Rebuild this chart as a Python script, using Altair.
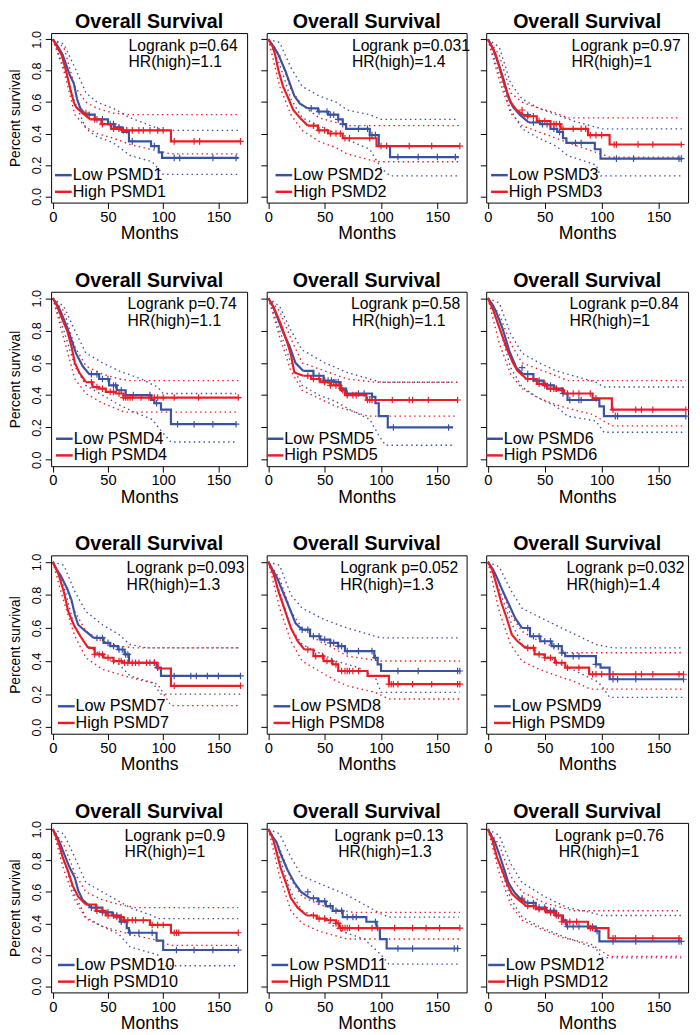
import altair as alt
import pandas as pd

FONT = "Liberation Sans"
BLUE = "#3953a4"
RED = "#ed1c24"

GENES = ["PSMD1", "PSMD2", "PSMD3", "PSMD4", "PSMD5", "PSMD6",
         "PSMD7", "PSMD8", "PSMD9", "PSMD10", "PSMD11", "PSMD12"]
LOGRANK_P = ["0.64", "0.031", "0.97", "0.74", "0.58", "0.84",
             "0.093", "0.052", "0.032", "0.9", "0.13", "0.76"]
HR_HIGH = ["1.1", "1.4", "1", "1.1", "1.1", "1", "1.3", "1.3", "1.4", "1", "1.3", "1"]
PANEL_TITLE = "Overall Survival"
X_TICKS = [0, 50, 100, 150]
Y_TICKS = [0.0, 0.2, 0.4, 0.6, 0.8, 1.0]

# ---- PSMD1 ----
P1_LOW = [(0,1),(5,0.95),(9,0.9),(12,0.84),(15,0.78),(19,0.72),(22,0.62),(25,0.56),(30,0.52),(38,0.49),(50,0.46),(56,0.44),(63,0.41),(69,0.35),(89,0.32),(96,0.28),(99,0.245),(168,0.245)]
P1_HIGH = [(0,1),(4,0.95),(8,0.9),(12,0.8),(16,0.68),(19,0.6),(21,0.57),(27,0.53),(34,0.49),(44,0.46),(53,0.43),(63,0.42),(107,0.35),(170,0.35)]
P1_LOW_UP = [(0,1),(10,0.97),(20,0.82),(30,0.66),(40,0.6),(55,0.56),(70,0.5),(85,0.46),(100,0.42),(168,0.42)]
P1_LOW_LO = [(0,1),(10,0.82),(20,0.6),(30,0.43),(40,0.38),(55,0.34),(70,0.26),(90,0.22),(100,0.14),(168,0.14)]
P1_HIGH_UP = [(0,1),(10,0.95),(20,0.7),(30,0.6),(40,0.56),(55,0.53),(70,0.52),(170,0.52)]
P1_HIGH_LO = [(0,1),(10,0.8),(20,0.52),(30,0.44),(40,0.4),(55,0.37),(70,0.33),(107,0.27),(170,0.27)]
P1_LOW_CENS = [33,40,45,52,55,60,72,92,110,115,145,166]
P1_HIGH_CENS = [30,38,45,55,60,64,67,72,78,82,88,95,100,110,128,133,170]

# ---- PSMD2 ----
P2_LOW = [(0,1),(5,0.95),(9,0.9),(15,0.8),(19,0.72),(23,0.64),(28,0.59),(35,0.56),(44,0.54),(53,0.52),(62,0.49),(66,0.46),(69,0.43),(90,0.39),(98,0.32),(108,0.25),(169,0.25)]
P2_HIGH = [(0,1),(4,0.95),(6,0.9),(9,0.8),(13,0.7),(18,0.62),(22,0.55),(28,0.5),(35,0.45),(44,0.42),(53,0.4),(66,0.37),(96,0.32),(170,0.32)]
P2_LOW_UP = [(0,1),(10,0.98),(20,0.82),(30,0.7),(45,0.64),(60,0.6),(70,0.55),(90,0.52),(100,0.49),(169,0.49)]
P2_LOW_LO = [(0,1),(10,0.84),(20,0.62),(30,0.5),(45,0.45),(60,0.4),(70,0.36),(90,0.3),(100,0.18),(108,0.13),(169,0.13)]
P2_HIGH_UP = [(0,1),(10,0.9),(20,0.68),(30,0.58),(45,0.5),(60,0.47),(70,0.45),(170,0.45)]
P2_HIGH_LO = [(0,1),(10,0.7),(20,0.52),(30,0.42),(45,0.35),(60,0.31),(70,0.27),(96,0.22),(170,0.22)]
P2_LOW_CENS = [38,45,52,55,58,62,66,80,88,92,95,115,133,150,166]
P2_HIGH_CENS = [40,45,50,55,60,64,68,72,90,100,105,125,145,170]

# ---- PSMD3 ----
P3_LOW = [(0,1),(5,0.93),(9,0.85),(14,0.74),(18,0.63),(22,0.57),(28,0.52),(36,0.47),(46,0.46),(55,0.43),(61,0.41),(66,0.37),(69,0.34),(94,0.3),(99,0.24),(171,0.24)]
P3_HIGH = [(0,1),(4,0.95),(7,0.9),(11,0.8),(15,0.7),(20,0.6),(25,0.55),(33,0.51),(43,0.48),(55,0.46),(64,0.43),(88,0.39),(107,0.33),(170,0.33)]
P3_LOW_UP = [(0,1),(10,0.95),(20,0.72),(30,0.62),(45,0.56),(60,0.52),(75,0.48),(95,0.44),(100,0.43),(171,0.43)]
P3_LOW_LO = [(0,1),(10,0.78),(20,0.55),(30,0.43),(45,0.37),(60,0.32),(70,0.26),(95,0.2),(99,0.13),(171,0.13)]
P3_HIGH_UP = [(0,1),(10,0.9),(20,0.66),(30,0.6),(45,0.56),(60,0.53),(70,0.5),(170,0.5)]
P3_HIGH_LO = [(0,1),(10,0.74),(20,0.53),(30,0.45),(45,0.41),(60,0.37),(75,0.33),(107,0.25),(170,0.25)]
P3_LOW_CENS = [35,40,48,52,58,63,77,82,113,128,168,170]
P3_HIGH_CENS = [30,35,40,45,50,55,58,60,63,66,75,82,86,90,95,100,111,113,132,145,170]

# ---- PSMD4 ----
P4_LOW = [(0,1),(4,0.96),(7,0.92),(13,0.82),(17,0.74),(21,0.66),(27,0.58),(33,0.53),(42,0.5),(51,0.46),(58,0.43),(66,0.4),(89,0.37),(92,0.35),(98,0.31),(107,0.22),(166,0.22)]
P4_HIGH = [(0,1),(4,0.95),(8,0.88),(13,0.8),(17,0.7),(20,0.6),(24,0.54),(30,0.48),(36,0.45),(42,0.44),(48,0.42),(57,0.41),(64,0.385),(168,0.385)]
P4_LOW_UP = [(0,1),(10,0.95),(20,0.8),(30,0.66),(45,0.6),(60,0.55),(80,0.5),(95,0.45),(100,0.41),(166,0.41)]
P4_LOW_LO = [(0,1),(10,0.8),(20,0.58),(30,0.46),(45,0.4),(60,0.34),(75,0.29),(90,0.25),(98,0.18),(107,0.11),(166,0.11)]
P4_HIGH_UP = [(0,1),(10,0.92),(20,0.7),(30,0.58),(45,0.53),(60,0.5),(70,0.49),(168,0.49)]
P4_HIGH_LO = [(0,1),(10,0.75),(20,0.5),(30,0.41),(45,0.35),(60,0.31),(65,0.295),(168,0.295)]
P4_LOW_CENS = [35,40,45,50,55,57,62,66,73,88,94,113,128,145,166]
P4_HIGH_CENS = [35,40,45,52,55,60,64,66,68,70,72,80,87,92,95,100,110,132,168]

# ---- PSMD5 ----
P5_LOW = [(0,1),(4,0.95),(8,0.88),(13,0.79),(19,0.7),(24,0.6),(31,0.55),(40,0.52),(49,0.49),(58,0.48),(64,0.44),(69,0.41),(92,0.39),(95,0.35),(98,0.27),(106,0.2),(164,0.2)]
P5_HIGH = [(0,1),(5,0.94),(11,0.84),(17,0.72),(20,0.65),(23,0.54),(31,0.52),(38,0.5),(46,0.48),(55,0.46),(64,0.43),(68,0.4),(87,0.37),(168,0.37)]
P5_LOW_UP = [(0,1),(10,0.95),(20,0.8),(30,0.68),(50,0.6),(70,0.54),(90,0.5),(100,0.48),(164,0.48)]
P5_LOW_LO = [(0,1),(10,0.8),(20,0.6),(30,0.46),(45,0.4),(60,0.36),(75,0.3),(90,0.25),(98,0.15),(104,0.09),(164,0.09)]
P5_HIGH_UP = [(0,1),(10,0.92),(20,0.75),(30,0.6),(50,0.55),(70,0.5),(95,0.48),(168,0.48)]
P5_HIGH_LO = [(0,1),(10,0.76),(20,0.55),(30,0.43),(45,0.38),(60,0.33),(75,0.3),(88,0.27),(168,0.27)]
P5_LOW_CENS = [40,45,50,53,56,58,60,62,65,70,80,85,92,111,160]
P5_HIGH_CENS = [35,40,45,50,55,60,63,66,70,75,78,88,90,92,110,125,128,142,168]

# ---- PSMD6 ----
P6_LOW = [(0,1),(4,0.96),(7,0.92),(13,0.81),(19,0.67),(25,0.57),(31,0.53),(40,0.49),(49,0.46),(58,0.44),(66,0.41),(70,0.37),(98,0.33),(102,0.27),(174,0.27)]
P6_HIGH = [(0,1),(5,0.92),(11,0.8),(17,0.68),(22,0.6),(26,0.55),(34,0.5),(43,0.47),(52,0.44),(61,0.43),(67,0.41),(92,0.38),(109,0.31),(174,0.31)]
P6_LOW_UP = [(0,1),(10,0.97),(20,0.78),(30,0.66),(45,0.6),(60,0.55),(75,0.52),(95,0.48),(102,0.45),(174,0.45)]
P6_LOW_LO = [(0,1),(10,0.82),(20,0.57),(30,0.45),(45,0.38),(60,0.33),(70,0.27),(95,0.24),(102,0.17),(174,0.17)]
P6_HIGH_UP = [(0,1),(10,0.9),(20,0.72),(30,0.6),(45,0.56),(60,0.52),(70,0.49),(174,0.49)]
P6_HIGH_LO = [(0,1),(10,0.72),(20,0.53),(30,0.44),(45,0.38),(60,0.34),(75,0.31),(92,0.28),(109,0.21),(174,0.21)]
P6_LOW_CENS = [30,35,45,50,55,60,66,72,80,82,112,114,174]
P6_HIGH_CENS = [35,40,45,50,55,58,60,65,70,75,80,90,95,110,130,135,145,174]

# ---- PSMD7 ----
P7_LOW = [(0,1),(3,0.96),(7,0.92),(13,0.84),(17,0.77),(20,0.68),(23,0.62),(28,0.59),(37,0.54),(46,0.51),(52,0.49),(59,0.47),(65,0.44),(69,0.39),(94,0.36),(98,0.31),(170,0.31)]
P7_HIGH = [(0,1),(5,0.93),(10,0.82),(14,0.7),(19,0.62),(25,0.55),(32,0.48),(38,0.44),(46,0.42),(55,0.4),(63,0.39),(95,0.355),(107,0.25),(170,0.25)]
P7_LOW_UP = [(0,1),(10,0.98),(20,0.82),(30,0.7),(45,0.62),(60,0.56),(70,0.5),(85,0.48),(170,0.48)]
P7_LOW_LO = [(0,1),(10,0.85),(20,0.6),(30,0.5),(45,0.43),(60,0.38),(70,0.31),(90,0.27),(98,0.2),(170,0.2)]
P7_HIGH_UP = [(0,1),(10,0.88),(20,0.7),(30,0.58),(45,0.52),(60,0.49),(74,0.48),(170,0.48)]
P7_HIGH_LO = [(0,1),(10,0.76),(20,0.55),(30,0.42),(45,0.35),(60,0.32),(70,0.3),(95,0.26),(107,0.13),(170,0.13)]
P7_LOW_CENS = [40,45,50,55,60,63,66,68,75,88,92,95,110,125,130,140,150,170]
P7_HIGH_CENS = [38,42,45,50,55,60,62,65,68,72,78,85,92,110,170]

# ---- PSMD8 ----
P8_LOW = [(0,1),(4,0.95),(8,0.9),(14,0.8),(20,0.7),(24,0.63),(30,0.59),(37,0.55),(46,0.53),(55,0.51),(62,0.49),(68,0.46),(94,0.42),(97,0.38),(100,0.34),(170,0.34)]
P8_HIGH = [(0,1),(5,0.92),(9,0.82),(14,0.72),(20,0.6),(26,0.52),(32,0.47),(40,0.43),(49,0.4),(57,0.38),(62,0.34),(88,0.31),(107,0.26),(170,0.26)]
P8_LOW_UP = [(0,1),(10,0.98),(20,0.8),(30,0.72),(50,0.65),(70,0.6),(90,0.56),(100,0.54),(170,0.54)]
P8_LOW_LO = [(0,1),(10,0.82),(20,0.6),(30,0.5),(45,0.45),(60,0.4),(80,0.36),(95,0.3),(100,0.21),(170,0.21)]
P8_HIGH_UP = [(0,1),(10,0.9),(20,0.7),(30,0.6),(45,0.52),(60,0.47),(70,0.43),(100,0.4),(170,0.4)]
P8_HIGH_LO = [(0,1),(10,0.72),(20,0.52),(30,0.4),(45,0.34),(60,0.28),(70,0.25),(95,0.21),(107,0.17),(170,0.17)]
P8_LOW_CENS = [30,35,40,45,50,55,58,62,65,70,80,92,95,115,133,168,170]
P8_HIGH_CENS = [35,42,48,52,56,60,65,68,70,72,75,80,107,109,111,115,128,145,168,170]

# ---- PSMD9 ----
P9_LOW = [(0,1),(4,0.96),(7,0.92),(12,0.84),(18,0.75),(24,0.66),(30,0.6),(37,0.55),(46,0.52),(56,0.49),(65,0.45),(68,0.43),(95,0.38),(99,0.36),(107,0.29),(172,0.29)]
P9_HIGH = [(0,1),(4,0.95),(8,0.85),(12,0.75),(17,0.65),(21,0.56),(26,0.52),(33,0.48),(41,0.44),(50,0.42),(59,0.39),(68,0.36),(89,0.32),(172,0.32)]
P9_LOW_UP = [(0,1),(10,0.97),(20,0.83),(30,0.72),(50,0.65),(65,0.6),(80,0.55),(95,0.5),(110,0.48),(172,0.48)]
P9_LOW_LO = [(0,1),(10,0.83),(20,0.64),(30,0.5),(45,0.45),(65,0.38),(80,0.33),(95,0.28),(100,0.25),(107,0.18),(172,0.18)]
P9_HIGH_UP = [(0,1),(10,0.88),(20,0.68),(30,0.58),(45,0.52),(60,0.48),(70,0.45),(172,0.45)]
P9_HIGH_LO = [(0,1),(10,0.7),(20,0.5),(30,0.4),(45,0.35),(65,0.3),(75,0.28),(90,0.23),(172,0.23)]
P9_LOW_CENS = [35,40,45,50,55,58,62,65,75,80,95,110,114,130,172]
P9_HIGH_CENS = [35,40,45,50,55,60,65,70,80,92,95,100,110,130,135,145,168,172]

# ---- PSMD10 ----
P10_LOW = [(0,1),(3,0.96),(6,0.92),(11,0.83),(15,0.76),(20,0.69),(23,0.61),(27,0.55),(35,0.5),(45,0.47),(54,0.45),(61,0.41),(67,0.37),(69,0.34),(94,0.29),(100,0.23),(168,0.23)]
P10_HIGH = [(0,1),(5,0.92),(9,0.82),(14,0.73),(18,0.64),(23,0.57),(30,0.52),(39,0.48),(48,0.45),(57,0.44),(64,0.42),(88,0.39),(107,0.34),(168,0.34)]
P10_LOW_UP = [(0,1),(10,0.97),(20,0.82),(30,0.66),(50,0.58),(70,0.5),(90,0.45),(95,0.43),(168,0.43)]
P10_LOW_LO = [(0,1),(10,0.8),(20,0.58),(30,0.44),(45,0.38),(60,0.33),(70,0.25),(95,0.2),(100,0.13),(168,0.13)]
P10_HIGH_UP = [(0,1),(10,0.9),(20,0.72),(30,0.6),(45,0.55),(60,0.52),(75,0.5),(168,0.5)]
P10_HIGH_LO = [(0,1),(10,0.74),(20,0.55),(30,0.43),(45,0.38),(60,0.35),(75,0.32),(90,0.3),(107,0.26),(168,0.26)]
P10_LOW_CENS = [35,40,45,50,55,58,62,70,78,90,112,128,145,168]
P10_HIGH_CENS = [40,45,50,55,58,62,65,68,72,75,82,90,95,100,110,112,114,168]

# ---- PSMD11 ----
P11_LOW = [(0,1),(4,0.95),(7,0.92),(11,0.84),(17,0.74),(23,0.66),(29,0.6),(37,0.56),(44,0.54),(51,0.51),(57,0.48),(66,0.44),(87,0.41),(96,0.37),(99,0.3),(105,0.24),(169,0.24)]
P11_HIGH = [(0,1),(4,0.94),(7,0.86),(11,0.75),(16,0.65),(20,0.56),(26,0.5),(34,0.45),(43,0.43),(51,0.42),(60,0.4),(63,0.37),(170,0.37)]
P11_LOW_UP = [(0,1),(10,0.97),(20,0.82),(30,0.7),(50,0.64),(70,0.58),(90,0.5),(100,0.46),(107,0.44),(169,0.44)]
P11_LOW_LO = [(0,1),(10,0.82),(20,0.6),(30,0.48),(50,0.42),(65,0.35),(85,0.3),(100,0.2),(107,0.14),(169,0.14)]
P11_HIGH_UP = [(0,1),(10,0.88),(20,0.68),(30,0.57),(45,0.52),(60,0.49),(75,0.47),(170,0.47)]
P11_HIGH_LO = [(0,1),(10,0.7),(20,0.48),(30,0.4),(45,0.35),(60,0.32),(70,0.3),(170,0.3)]
P11_LOW_CENS = [35,40,45,50,55,60,65,70,75,78,95,115,128,165,168]
P11_HIGH_CENS = [40,45,50,55,60,62,64,66,68,70,72,80,92,97,112,128,140,152,170]

# ---- PSMD12 ----
P12_LOW = [(0,1),(3,0.96),(6,0.92),(10,0.84),(14,0.75),(18,0.66),(23,0.6),(28,0.56),(34,0.53),(42,0.5),(51,0.48),(60,0.45),(66,0.42),(69,0.38),(95,0.35),(98,0.285),(170,0.285)]
P12_HIGH = [(0,1),(4,0.93),(8,0.82),(13,0.73),(17,0.65),(21,0.59),(27,0.55),(34,0.51),(42,0.49),(51,0.47),(59,0.45),(65,0.41),(88,0.37),(106,0.305),(170,0.305)]
P12_LOW_UP = [(0,1),(10,0.96),(20,0.78),(30,0.66),(50,0.57),(70,0.5),(90,0.47),(100,0.45),(170,0.45)]
P12_LOW_LO = [(0,1),(10,0.78),(20,0.56),(30,0.44),(45,0.38),(65,0.32),(80,0.28),(95,0.24),(100,0.18),(170,0.18)]
P12_HIGH_UP = [(0,1),(10,0.9),(20,0.7),(30,0.6),(50,0.53),(65,0.5),(75,0.48),(170,0.48)]
P12_HIGH_LO = [(0,1),(10,0.72),(20,0.52),(30,0.42),(45,0.37),(65,0.31),(90,0.27),(107,0.19),(170,0.19)]
P12_LOW_CENS = [30,35,40,45,50,55,58,60,62,70,75,80,92,96,110,130,168,170]
P12_HIGH_CENS = [30,35,40,45,50,55,58,62,65,68,72,78,90,92,110,112,130,145,168]

LOW = [P1_LOW, P2_LOW, P3_LOW, P4_LOW, P5_LOW, P6_LOW, P7_LOW, P8_LOW, P9_LOW, P10_LOW, P11_LOW, P12_LOW]
HIGH = [P1_HIGH, P2_HIGH, P3_HIGH, P4_HIGH, P5_HIGH, P6_HIGH, P7_HIGH, P8_HIGH, P9_HIGH, P10_HIGH, P11_HIGH, P12_HIGH]
LOW_UP = [P1_LOW_UP, P2_LOW_UP, P3_LOW_UP, P4_LOW_UP, P5_LOW_UP, P6_LOW_UP, P7_LOW_UP, P8_LOW_UP, P9_LOW_UP, P10_LOW_UP, P11_LOW_UP, P12_LOW_UP]
LOW_LO = [P1_LOW_LO, P2_LOW_LO, P3_LOW_LO, P4_LOW_LO, P5_LOW_LO, P6_LOW_LO, P7_LOW_LO, P8_LOW_LO, P9_LOW_LO, P10_LOW_LO, P11_LOW_LO, P12_LOW_LO]
HIGH_UP = [P1_HIGH_UP, P2_HIGH_UP, P3_HIGH_UP, P4_HIGH_UP, P5_HIGH_UP, P6_HIGH_UP, P7_HIGH_UP, P8_HIGH_UP, P9_HIGH_UP, P10_HIGH_UP, P11_HIGH_UP, P12_HIGH_UP]
HIGH_LO = [P1_HIGH_LO, P2_HIGH_LO, P3_HIGH_LO, P4_HIGH_LO, P5_HIGH_LO, P6_HIGH_LO, P7_HIGH_LO, P8_HIGH_LO, P9_HIGH_LO, P10_HIGH_LO, P11_HIGH_LO, P12_HIGH_LO]
LOW_CENS = [P1_LOW_CENS, P2_LOW_CENS, P3_LOW_CENS, P4_LOW_CENS, P5_LOW_CENS, P6_LOW_CENS, P7_LOW_CENS, P8_LOW_CENS, P9_LOW_CENS, P10_LOW_CENS, P11_LOW_CENS, P12_LOW_CENS]
HIGH_CENS = [P1_HIGH_CENS, P2_HIGH_CENS, P3_HIGH_CENS, P4_HIGH_CENS, P5_HIGH_CENS, P6_HIGH_CENS, P7_HIGH_CENS, P8_HIGH_CENS, P9_HIGH_CENS, P10_HIGH_CENS, P11_HIGH_CENS, P12_HIGH_CENS]

# ---- layout (pixels) ----
COL_W = [200, 204, 206]
ROW_H = [173, 178, 182, 173]
COL_SPACING = 20
ROW_SPACING = 91
LOGRANK_X = [79, 87, 87, 78, 86, 85, 77, 75, 82, 75, 69, 70]
HR_X = [79, 87, 87, 78, 87, 85, 77, 75, 82, 75, 73, 74]
LEG_X = [4, 9, 5, 5, 0, 0, 7, 7, 8, 7, 5, 2]
SPLIT_T = 30  # where the many small early steps give way to visible steps


def surv_at(curve, t):
    s = curve[0][1]
    for tt, ss in curve:
        if tt <= t:
            s = ss
        else:
            break
    return s


def split_curve(curve):
    k = next(j for j, (tt, _) in enumerate(curve) if tt >= SPLIT_T)
    early = pd.DataFrame(curve[:k + 1], columns=["t", "s"])
    late = pd.DataFrame(curve[k:], columns=["t", "s"])
    return early, late


def ci_df(up, lo):
    a = pd.DataFrame(up, columns=["t", "s"]); a["band"] = "up"
    b = pd.DataFrame(lo, columns=["t", "s"]); b["band"] = "lo"
    return pd.concat([a, b], ignore_index=True)


def cens_df(curve, times):
    return pd.DataFrame({"t": times, "s": [surv_at(curve, t) for t in times]})


def text_layer(label, x, y, size, align="left", weight="normal", baseline="middle"):
    return alt.Chart(pd.DataFrame({"label": [label]})).mark_text(
        align=align, baseline=baseline, fontSize=size, font=FONT, color="black",
        fontWeight=weight).encode(x=alt.value(x), y=alt.value(y), text="label:N")


def make_panel(i):
    col = i % 3
    row = i // 3
    w = COL_W[col]
    h = ROW_H[row]
    xs = alt.Scale(domain=[-1.5, 176], nice=False, zero=False)
    ys = alt.Scale(domain=[-0.04, 1.04], nice=False, zero=False)
    x_axis = alt.Axis(values=X_TICKS, title="Months", labelFontSize=15, titleFontSize=18,
                      tickSize=6, labelPadding=1, titlePadding=1, domain=False, grid=False)
    ykw = dict(values=Y_TICKS, format=".1f", tickSize=6, domain=False, grid=False,
               labelAngle=270, labelAlign="center", labelBaseline="bottom",
               labelFontSize=13, labelPadding=2)
    if col == 0:
        ykw.update(title="Percent survival", titleFontSize=14, titlePadding=8)
    else:
        ykw.update(labels=False, title="")
    y_axis = alt.Axis(**ykw)
    X = alt.X("t:Q", scale=xs, axis=x_axis)
    Y = alt.Y("s:Q", scale=ys, axis=y_axis)

    layers = []
    for up, lo, colr in [(LOW_UP[i], LOW_LO[i], BLUE), (HIGH_UP[i], HIGH_LO[i], RED)]:
        layers.append(alt.Chart(ci_df(up, lo)).mark_line(
            color=colr, strokeWidth=1.4, strokeDash=[1.5, 3.5]).encode(x=X, y=Y, detail="band:N"))
    for curve, cens, colr in [(LOW[i], LOW_CENS[i], BLUE), (HIGH[i], HIGH_CENS[i], RED)]:
        early, late = split_curve(curve)
        layers.append(alt.Chart(early).mark_line(
            color=colr, strokeWidth=2.2, interpolate="linear").encode(x=X, y=Y))
        layers.append(alt.Chart(late).mark_line(
            color=colr, strokeWidth=2.2, interpolate="step-after").encode(x=X, y=Y))
        layers.append(alt.Chart(cens_df(curve, cens)).mark_point(
            shape="M-1,0L1,0M0,-1L0,1", filled=False, size=45, strokeWidth=1.2,
            color=colr, opacity=1).encode(x=X, y=Y))

    # panel title, annotations
    layers.append(text_layer(PANEL_TITLE, w / 2, -5, 20, align="center", weight="bold",
                             baseline="alphabetic"))
    layers.append(text_layer("Logrank p=" + LOGRANK_P[i], LOGRANK_X[i], 13, 16))
    layers.append(text_layer("HR(high)=" + HR_HIGH[i], HR_X[i], 30, 16))

    # legend
    lx = LEG_X[i]
    for k, (lab, colr) in enumerate([("Low " + GENES[i], BLUE), ("High " + GENES[i], RED)]):
        yy = h - 28 + 17 * k
        layers.append(alt.Chart(pd.DataFrame({"k": [0]})).mark_rule(
            color=colr, strokeWidth=2.5).encode(x=alt.value(lx), x2=alt.value(lx + 17), y=alt.value(yy)))
        layers.append(text_layer(lab, lx + 18, yy, 16.5))

    return alt.layer(*layers).properties(width=w, height=h)


panels = [make_panel(i) for i in range(12)]

chart = alt.concat(*panels, columns=3, spacing={"row": ROW_SPACING, "column": COL_SPACING},
                   bounds="flush").properties(
    padding={"left": 0, "top": -7, "right": 0, "bottom": -3}
).configure_view(
    stroke="black", strokeWidth=1
).configure_axis(
    tickColor="black", labelColor="black", titleColor="black",
    labelFont=FONT, titleFont=FONT, titleFontWeight="normal", tickWidth=1
)

chart.save("out.html", embed_options={"renderer": "svg", "actions": False})
